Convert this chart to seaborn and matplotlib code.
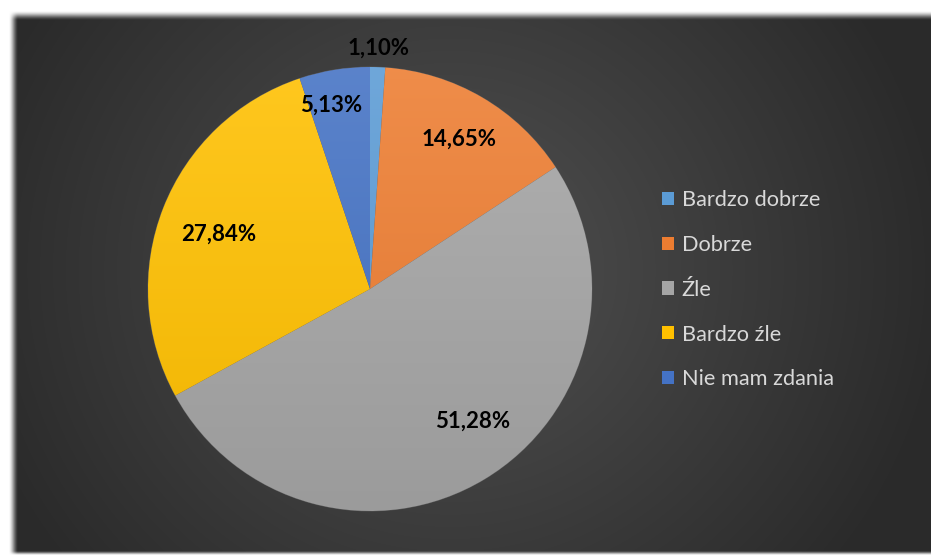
import numpy as np
import matplotlib
matplotlib.use("Agg")
import matplotlib.pyplot as plt
import matplotlib.colors as mcolors
from matplotlib.patches import Patch
import seaborn as sns

categories = ["Bardzo dobrze", "Dobrze", "Źle", "Bardzo źle", "Nie mam zdania"]
shares = [1.10, 14.65, 51.28, 27.84, 5.13]
value_labels = ["1,10%", "14,65%", "51,28%", "27,84%", "5,13%"]

base_colors = ["#5B9BD5", "#ED7D31", "#A5A5A5", "#FFC000", "#4472C4"]
# label placement: distance from the centre (in radii) and a small turn (deg)
label_radius = [1.09, 0.79, 0.75, 0.725, 0.85]
label_turn = [0.0, 0.0, 7.0, 1.0, 2.5]

sns.set_theme(style="white")
plt.rcParams["font.family"] = ["Lato", "DejaVu Sans"]

W, H = 931, 556
fig = plt.figure(figsize=(W / 100, H / 100), dpi=100)
fig.patch.set_facecolor("white")

# ---- background panel with radial shading and soft edges ----
bg_ax = fig.add_axes([0, 0, 1, 1], zorder=-10)
yy, xx = np.mgrid[0:H, 0:W].astype(float)
cx, cy = 450.0, 270.0
dist = np.hypot(xx - cx, (yy - cy) * 1.05)
t = np.clip(dist / 500.0, 0, 1)
inner, outer = 0x51 / 255, 0x2a / 255
shade = inner + (outer - inner) * t


def smooth_edge(v, lo, width):
    s = np.clip((v - lo) / width, 0, 1)
    return s * s * (3 - 2 * s)


alpha = (smooth_edge(xx, 8, 10) * smooth_edge(yy, 10, 10)
         * (1 - smooth_edge(yy, 550, 5)))
img = np.ones((H, W, 3))
for k in range(3):
    img[..., k] = alpha * shade + (1 - alpha) * 1.0
bg_ax.imshow(img, extent=[0, W, H, 0], aspect="auto", interpolation="bilinear")
bg_ax.set_xlim(0, W)
bg_ax.set_ylim(H, 0)
bg_ax.axis("off")

# ---- pie ----
pcx, pcy, R = 370, 289, 222
ax = fig.add_axes([(pcx - R) / W, (H - pcy - R) / H, 2 * R / W, 2 * R / H])
ax.set_facecolor("none")
wedges, _ = ax.pie(shares, colors=base_colors, startangle=90, counterclock=False,
                   radius=1.0, wedgeprops=dict(linewidth=0.6, edgecolor="#5a5a5a"))
ax.set_xlim(-1, 1)
ax.set_ylim(-1, 1)
ax.axis("off")


def lighten(c, f):
    r = np.array(mcolors.to_rgb(c))
    return tuple(r + (1 - r) * f)


def darken(c, f):
    r = np.array(mcolors.to_rgb(c))
    return tuple(r * (1 - f))


# vertical gradient inside every wedge, lighter at the top
for w, c in zip(wedges, base_colors):
    top = np.array(lighten(c, 0.12))
    bot = np.array(darken(c, 0.06))
    g = np.linspace(0, 1, 256)[:, None, None]
    grad = top * (1 - g) + bot * g
    grad = np.repeat(grad, 2, axis=1)
    im = ax.imshow(grad, extent=[-1, 1, -1, 1], origin="upper",
                   aspect="auto", interpolation="bilinear", zorder=w.get_zorder())
    im.set_clip_path(w)
    w.set_facecolor("none")

# value labels placed near each wedge's bisector
for w, txt, rr, turn in zip(wedges, value_labels, label_radius, label_turn):
    mid = np.deg2rad((w.theta1 + w.theta2) / 2 + turn)
    ax.annotate(txt, (rr * np.cos(mid), rr * np.sin(mid)),
                xytext=(0, -5.5), textcoords="offset points",
                ha="center", va="baseline", annotation_clip=False,
                fontsize=16, fontweight="bold", color="black", zorder=10)

ax.set_xlim(-1, 1)
ax.set_ylim(-1, 1)

# ---- legend ----
handles = [Patch(facecolor=c, edgecolor="none") for c in base_colors]
leg = fig.legend(handles, categories, loc="upper left",
                 bbox_to_anchor=(662 / W, 1 - 190 / H), frameon=False,
                 fontsize=15.7, labelcolor="#d9d9d9", handlelength=0.55,
                 handleheight=0.55, handletextpad=0.36, labelspacing=1.14,
                 borderaxespad=0, borderpad=0)

fig.savefig("out.png", dpi=100)
